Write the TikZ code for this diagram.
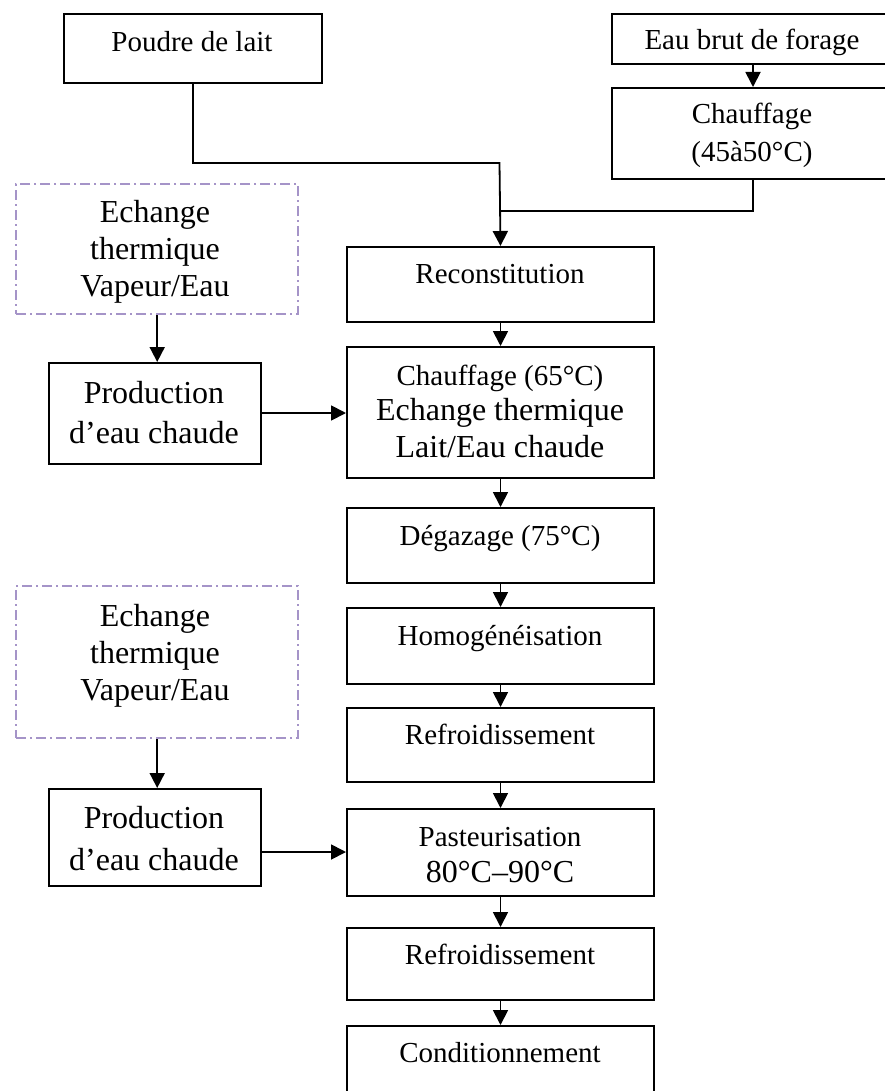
\documentclass[tikz,border=0pt]{standalone}
\usepackage{fontspec}
\setmainfont{Liberation Serif}
\usetikzlibrary{arrows.meta}
\definecolor{dashpurple}{RGB}{165,148,200}
\begin{document}
\begin{tikzpicture}[x=1pt,y=-1pt,
  box/.style={draw=black, line width=2pt, inner sep=0pt, anchor=north west},
  ebox/.style={draw=dashpurple, line width=2.4pt, dash pattern=on 10pt off 4pt on 2pt off 4pt, inner sep=0pt, anchor=north west},
  lbl/.style={inner sep=0pt, align=center, anchor=base, font=\fontsize{29}{36}\selectfont},
  big/.style={inner sep=0pt, align=center, anchor=base, font=\fontsize{32}{37}\selectfont},
  arr/.style={line width=1.8pt, -{Triangle[width=15pt,length=15pt]}},
  con/.style={line width=1.8pt}]
\useasboundingbox (0,0) rectangle (884,1091);
% boxes
\node[box, minimum width=258pt, minimum height=69pt] (poudre) at (63,13) {};
\node[box, minimum width=282pt, minimum height=50pt] (eau) at (611,13) {};
\node[box, minimum width=282pt, minimum height=91pt] (ch45) at (611,87) {};
\node[box, minimum width=307pt, minimum height=75pt] (recon) at (346,246) {};
\node[box, minimum width=307pt, minimum height=131pt] (ch65) at (346,346) {};
\node[box, minimum width=307pt, minimum height=75pt] (degaz) at (346,507) {};
\node[box, minimum width=307pt, minimum height=76pt] (homog) at (346,607) {};
\node[box, minimum width=307pt, minimum height=74pt] (refrA) at (346,707) {};
\node[box, minimum width=307pt, minimum height=87pt] (past) at (346,808) {};
\node[box, minimum width=307pt, minimum height=72pt] (refrB) at (346,927) {};
\node[box, minimum width=307pt, minimum height=80pt] (cond) at (346,1025) {};
\node[ebox, minimum width=282pt, minimum height=130pt] (echA) at (15,183) {};
\node[box, minimum width=212pt, minimum height=101pt] (prodA) at (48,362) {};
\node[ebox, minimum width=282pt, minimum height=152pt] (echB) at (15,585) {};
\node[box, minimum width=212pt, minimum height=97pt] (prodB) at (48,788) {};
% texts (multi-line nodes: base = baseline of last line)
\node[lbl] (tpoudre) at (192,52) {Poudre de lait};
\node[lbl] (teau) at (752,50) {Eau brut de forage};
\node[lbl, font=\fontsize{29}{38}\selectfont] (tch45) at (752,162) {Chauffage\\(45à50°C)};
\node[lbl] (trecon) at (500,283) {Reconstitution};
\node[lbl] (tch65a) at (500,385) {Chauffage (65°C)};
\node[big] (tch65b) at (500,457) {Echange thermique\\Lait/Eau chaude};
\node[lbl] (tdegaz) at (500,545) {Dégazage (75°C)};
\node[lbl] (thomog) at (500,645) {Homogénéisation};
\node[lbl] (trefrA) at (500,744) {Refroidissement};
\node[lbl] (tpastA) at (500,846) {Pasteurisation};
\node[big] (tpastB) at (500,882) {80°C–90°C};
\node[lbl] (trefrB) at (500,964) {Refroidissement};
\node[lbl] (tcond) at (500,1062) {Conditionnement};
\node[big] (techA) at (155,296) {Echange\\thermique\\Vapeur/Eau};
\node[big, font=\fontsize{32}{40}\selectfont] (tprodA) at (154,443) {Production\\d’eau chaude};
\node[big] (techB) at (155,700) {Echange\\thermique\\Vapeur/Eau};
\node[big, font=\fontsize{32}{42}\selectfont] (tprodB) at (154,870) {Production\\d’eau chaude};
% connectors
\coordinate (m1) at (499.5,163);
\coordinate (m2) at (499.5,211);
\coordinate (ya) at (0,413);
\coordinate (yb) at (0,852);
\draw[arr] (poudre.south) |- (m1) -- (recon.north);
\draw[con] (ch45.south) |- (m2);
\draw[arr] (eau.south) -- (ch45.north);
\draw[arr] (recon.south) -- (ch65.north);
\draw[arr] (ch65.south) -- (degaz.north);
\draw[arr] (degaz.south) -- (homog.north);
\draw[arr] (homog.south) -- (refrA.north);
\draw[arr] (refrA.south) -- (past.north);
\draw[arr] (past.south) -- (refrB.north);
\draw[arr] (refrB.south) -- (cond.north);
\draw[arr] (echA.south) -- (echA.south |- prodA.north);
\draw[arr] (echB.south) -- (echB.south |- prodB.north);
\draw[arr] (prodA.east |- ya) -- (ch65.west |- ya);
\draw[arr] (prodB.east |- yb) -- (past.west |- yb);
\end{tikzpicture}
\end{document}
